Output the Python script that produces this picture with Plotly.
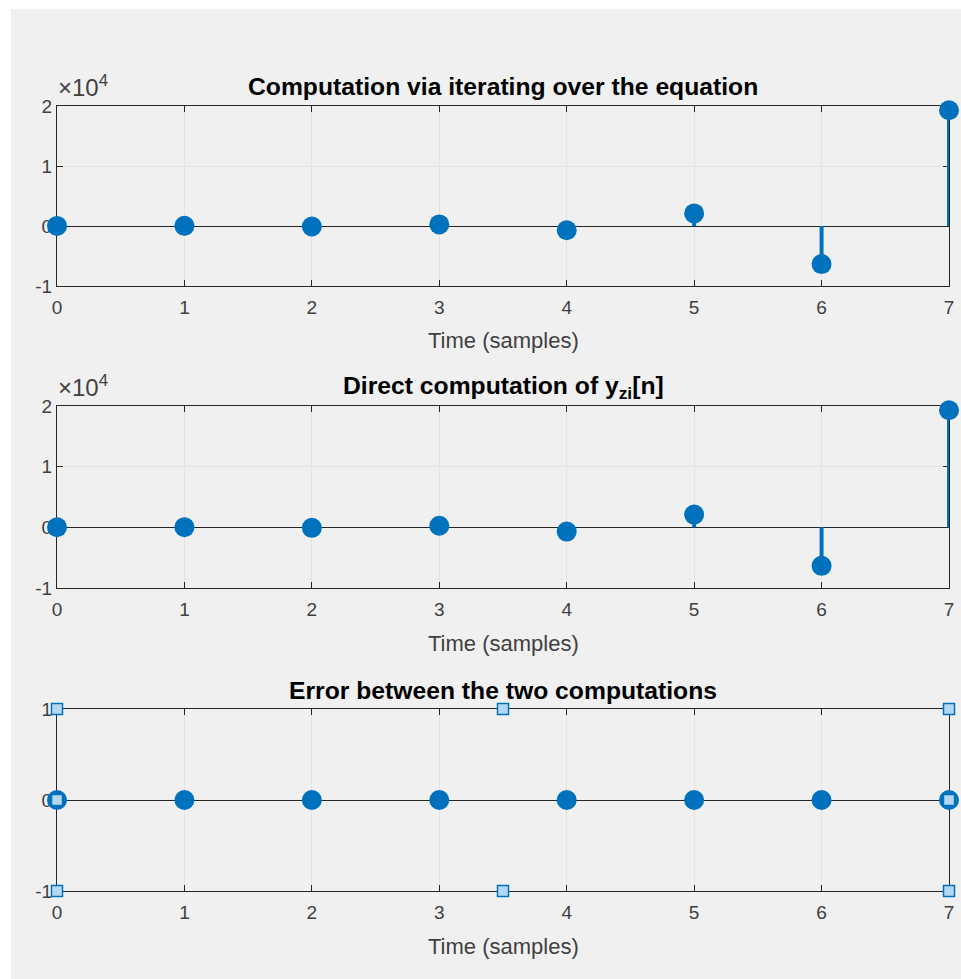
import plotly.graph_objects as go

# ---- data ----
n = [0, 1, 2, 3, 4, 5, 6, 7]
y_iter = [10, 30, -80, 260, -700, 2100, -6350, 19300]
y_direct = [10, 30, -80, 260, -700, 2100, -6350, 19300]
y_error = [0, 0, 0, 0, 0, 0, 0, 0]
handle_x = [0, 3.5, 7, 0, 7, 0, 3.5, 7]
handle_y = [1, 1, 1, 0, 0, -1, -1, -1]

titles = ["<b>Computation via iterating over the equation</b>",
          "<b>Direct computation of y<sub>zi</sub>[n]</b>",
          "<b>Error between the two computations</b>"]
xlabel = "Time (samples)"
big_ticks = [-10000, 0, 10000, 20000]
big_ticktext = ["-1", "0", "1", "2"]
err_ticks = [-1, 0, 1]
err_ticktext = ["-1", "0", "1"]

W, H = 961, 979
BLUE = "#0072BD"
FONT = "Liberation Sans, Arial, sans-serif"


def px_x(p):
    return p / W


def px_y(p):
    return 1 - p / H


# plot-area pixel boxes (top, bottom)
boxes = [(106, 286), (406, 588), (709, 891)]
xl, xr = 57, 949

fig = go.Figure()


def stem(series, ax):
    xs, ys = [], []
    for xi, yi in zip(n, series):
        xs += [xi, xi, None]
        ys += [0, yi, None]
    fig.add_trace(go.Scatter(x=xs, y=ys, mode="lines", line=dict(color=BLUE, width=4),
                             xaxis="x" + ax, yaxis="y" + ax, showlegend=False,
                             hoverinfo="skip", cliponaxis=False))
    fig.add_trace(go.Scatter(x=n, y=series, mode="markers",
                             marker=dict(color=BLUE, size=20, line=dict(width=0)),
                             xaxis="x" + ax, yaxis="y" + ax, showlegend=False,
                             cliponaxis=False))


stem(y_iter, "")
stem(y_direct, "2")
stem(y_error, "3")
fig.add_trace(go.Scatter(x=handle_x, y=handle_y, mode="markers",
                         marker=dict(symbol="square", size=11, color="#b5d8f2",
                                     line=dict(color=BLUE, width=1.5)),
                         xaxis="x3", yaxis="y3", showlegend=False, cliponaxis=False))

axis_common = dict(showline=True, linecolor="#262626", linewidth=1, mirror="allticks",
                   ticks="inside", ticklen=6, tickcolor="#262626", showgrid=True,
                   gridcolor="#e3e3e3", gridwidth=1, layer="below traces",
                   automargin=False,
                   tickfont=dict(family=FONT, size=19, color="#404040"))

layout = dict(width=W, height=H, margin=dict(l=0, r=0, t=0, b=0, autoexpand=False),
              paper_bgcolor="white", plot_bgcolor="white", showlegend=False)

annotations = []
for i, (top, bot) in enumerate(boxes):
    sfx = "" if i == 0 else str(i + 1)
    xa = dict(axis_common, domain=[px_x(xl), px_x(xr)], range=[0, 7], tickvals=n,
              zeroline=False, anchor="y" + sfx, ticklabelstandoff=4)
    if i < 2:
        ya_ticks = dict(range=[-10000, 20000], tickvals=big_ticks, ticktext=big_ticktext)
    else:
        ya_ticks = dict(range=[-1, 1], tickvals=err_ticks, ticktext=err_ticktext)
    ya = dict(axis_common, domain=[px_y(bot), px_y(top)], zeroline=True,
              zerolinecolor="#262626", zerolinewidth=1, anchor="x" + sfx, **ya_ticks)
    layout["xaxis" + sfx] = xa
    layout["yaxis" + sfx] = ya
    # title
    annotations.append(dict(text=titles[i], x=(px_x(xl) + px_x(xr)) / 2, y=px_y(top - 19),
                            xref="paper", yref="paper", showarrow=False,
                            xanchor="center", yanchor="middle",
                            font=dict(family=FONT, size=24.7, color="black")))
    # x label
    annotations.append(dict(text=xlabel, x=(px_x(xl) + px_x(xr)) / 2, y=px_y(bot + 55),
                            xref="paper", yref="paper", showarrow=False,
                            xanchor="center", yanchor="middle",
                            font=dict(family=FONT, size=22, color="#404040")))
    if i < 2:
        annotations.append(dict(text="×10<sup>4</sup>", x=px_x(xl - 1), y=px_y(top - 3),
                                xref="paper", yref="paper", showarrow=False,
                                xanchor="left", yanchor="bottom",
                                font=dict(family=FONT, size=24, color="#404040")))

layout["annotations"] = annotations
layout["shapes"] = [dict(type="rect", xref="paper", yref="paper", x0=px_x(11), x1=1,
                         y0=0, y1=px_y(9), fillcolor="#f0f0f0", line=dict(width=0),
                         layer="below")]
fig.update_layout(**layout)
fig.write_html("out.html", config={"displayModeBar": False},
               post_script="document.body.style.margin='0px';document.body.style.overflow='hidden';")
